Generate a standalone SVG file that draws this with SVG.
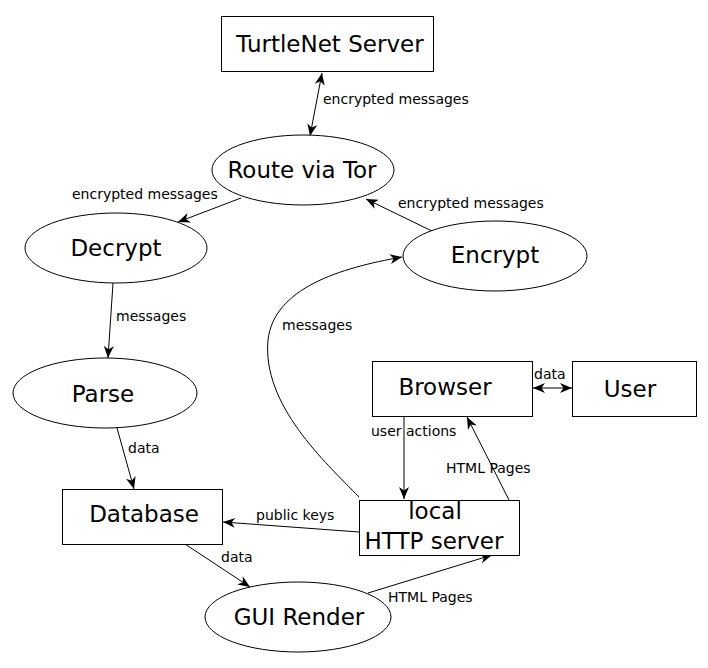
<svg xmlns="http://www.w3.org/2000/svg" width="708" height="668" viewBox="0 0 708 668">
<defs>
<marker id="ah" viewBox="0 0 12 10" refX="12" refY="5" markerWidth="13" markerHeight="10" markerUnits="userSpaceOnUse" orient="auto-start-reverse">
<path d="M0,0 L12,5 L0,10 L3.5,5 z" fill="#000"/>
</marker>
</defs>
<style>
.n{fill:#fff;stroke:#000;stroke-width:1}
.t{font-family:"DejaVu Sans",sans-serif;font-size:23px;fill:#000;text-anchor:middle}
.e{fill:none;stroke:#000;stroke-width:1;marker-end:url(#ah)}
.b{marker-start:url(#ah)}
.l{font-family:"DejaVu Sans",sans-serif;font-size:14px;fill:#000}
</style>
<rect width="708" height="668" fill="#fff"/>
<g id="connectors">
<path class="e b" d="M322,73 L310,136"/>
<path class="e" d="M241,198 L178,222"/>
<path class="e" d="M434,232 L366,199"/>
<path class="e" d="M113,283 L108,358"/>
<path class="e" d="M117,428 L134,489"/>
<path class="e" d="M359,532 L223,522"/>
<path class="e" d="M185,544 L250,587"/>
<path class="e" d="M368,593 L492,555"/>
<path class="e" d="M509,500 L467,417"/>
<path class="e" d="M404,416 L404,499"/>
<path class="e b" d="M533,388 L572,388"/>
<path class="e" d="M359,497 C325,462 262,405 268,340 C274,288 340,268 402,257"/>
<text class="l" x="323" y="104">encrypted messages</text>
<text class="l" x="72" y="199">encrypted messages</text>
<text class="l" x="398" y="208">encrypted messages</text>
<text class="l" x="116" y="321">messages</text>
<text class="l" x="282" y="330">messages</text>
<text class="l" x="534" y="379">data</text>
<text class="l" x="371" y="436">user actions</text>
<text class="l" x="446" y="473">HTML Pages</text>
<text class="l" x="128" y="453">data</text>
<text class="l" x="256" y="520">public keys</text>
<text class="l" x="221" y="562">data</text>
<text class="l" x="388" y="602">HTML Pages</text>
</g>
<g id="turtlenet">
<rect class="n" x="221.5" y="16.5" width="212" height="55"/>
<text class="t" x="330" y="52">TurtleNet Server</text>
</g>
<g id="tor">
<ellipse class="n" cx="303" cy="170" rx="91" ry="35"/>
<text class="t" x="302" y="178">Route via Tor</text>
</g>
<g id="decrypt">
<ellipse class="n" cx="116" cy="248" rx="91" ry="35"/>
<text class="t" x="116" y="256">Decrypt</text>
</g>
<g id="encrypt">
<ellipse class="n" cx="495" cy="256" rx="92" ry="35"/>
<text class="t" x="495" y="263">Encrypt</text>
</g>
<g id="parse">
<ellipse class="n" cx="105" cy="393" rx="92" ry="35"/>
<text class="t" x="103" y="402">Parse</text>
</g>
<g id="browser">
<rect class="n" x="372.5" y="361.5" width="160" height="55"/>
<text class="t" x="445" y="395">Browser</text>
</g>
<g id="user">
<rect class="n" x="572.5" y="361.5" width="124" height="55"/>
<text class="t" x="630" y="397">User</text>
</g>
<g id="database">
<rect class="n" x="62.5" y="489.5" width="160" height="55"/>
<text class="t" x="144" y="522">Database</text>
</g>
<g id="http">
<rect class="n" x="359.5" y="500.5" width="160" height="55"/>
<text class="t" x="435" y="519">local</text>
<text class="t" x="434" y="549">HTTP server</text>
</g>
<g id="gui">
<ellipse class="n" cx="298" cy="617" rx="93" ry="35"/>
<text class="t" x="299" y="625">GUI Render</text>
</g>
</svg>
